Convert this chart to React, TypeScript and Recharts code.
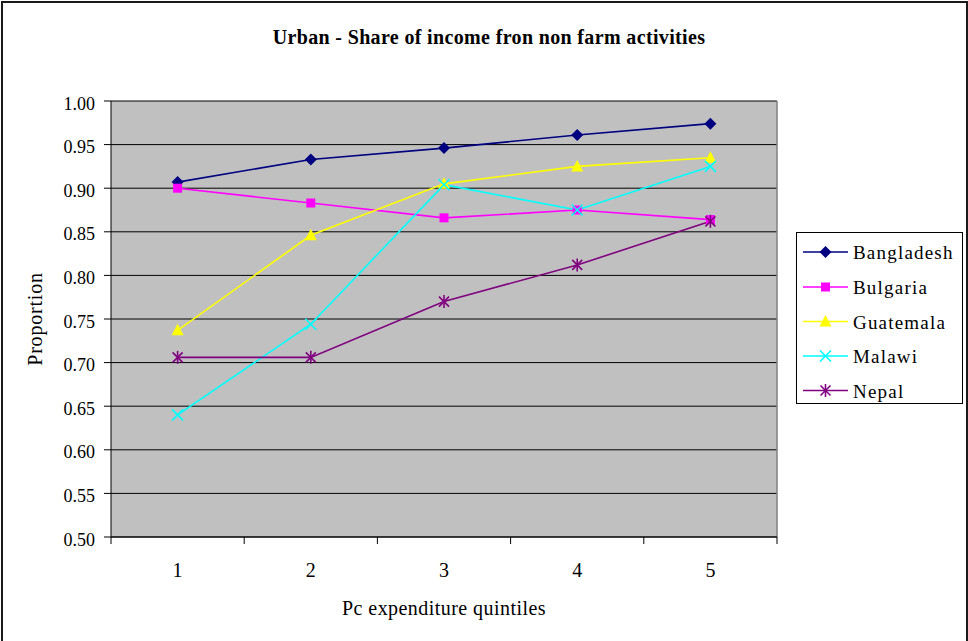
import React from 'react';
import { LineChart, Line, XAxis, YAxis, CartesianGrid, Legend, ReferenceLine, Customized } from 'recharts';

// Per-capita expenditure quintiles
const quintiles = [1, 2, 3, 4, 5];

// Share of income from non farm activities, urban households
const bangladesh = [0.907, 0.933, 0.946, 0.961, 0.974];
const bulgaria = [0.900, 0.883, 0.866, 0.875, 0.864];
const guatemala = [0.737, 0.846, 0.905, 0.925, 0.935];
const malawi = [0.640, 0.744, 0.904, 0.875, 0.925];
const nepal = [0.706, 0.706, 0.770, 0.812, 0.862];

const yTicks = [0.5, 0.55, 0.6, 0.65, 0.7, 0.75, 0.8, 0.85, 0.9, 0.95, 1.0];
// integer ticks carry the labels, half ticks mark the category boundaries
const xTicks = [0.5, 1, 1.5, 2, 2.5, 3, 3.5, 4, 4.5, 5, 5.5];

const data = quintiles.map((q, i) => ({
  q,
  Bangladesh: bangladesh[i],
  Bulgaria: bulgaria[i],
  Guatemala: guatemala[i],
  Malawi: malawi[i],
  Nepal: nepal[i],
}));

const FONT = "'Liberation Serif', 'Times New Roman', Times, serif";
const serif = (size: number, extra: React.CSSProperties = {}): React.CSSProperties => ({
  fontFamily: FONT,
  fontSize: size,
  ...extra,
});

type MarkerKind = 'diamond' | 'square' | 'triangle' | 'cross' | 'star';

const series: { key: string; color: string; marker: MarkerKind }[] = [
  { key: 'Bangladesh', color: '#000080', marker: 'diamond' },
  { key: 'Bulgaria', color: '#FF00FF', marker: 'square' },
  { key: 'Guatemala', color: '#FFFF00', marker: 'triangle' },
  { key: 'Malawi', color: '#00FFFF', marker: 'cross' },
  { key: 'Nepal', color: '#800080', marker: 'star' },
];

function Marker({ kind, cx, cy, color }: { kind: MarkerKind; cx: number; cy: number; color: string }) {
  switch (kind) {
    case 'diamond':
      return <path d={`M${cx},${cy - 6}L${cx + 6},${cy}L${cx},${cy + 6}L${cx - 6},${cy}Z`} fill={color} />;
    case 'square':
      return <rect x={cx - 4.5} y={cy - 4.5} width={9} height={9} fill={color} />;
    case 'triangle':
      return <path d={`M${cx},${cy - 6.5}L${cx + 6},${cy + 5}L${cx - 6},${cy + 5}Z`} fill={color} />;
    case 'cross':
      return (
        <g stroke={color} strokeWidth={1.6}>
          <line x1={cx - 5.5} y1={cy - 5.5} x2={cx + 5.5} y2={cy + 5.5} />
          <line x1={cx - 5.5} y1={cy + 5.5} x2={cx + 5.5} y2={cy - 5.5} />
        </g>
      );
    case 'star':
    default:
      return (
        <g stroke={color} strokeWidth={1.6}>
          <line x1={cx - 5} y1={cy - 5} x2={cx + 5} y2={cy + 5} />
          <line x1={cx - 5} y1={cy + 5} x2={cx + 5} y2={cy - 5} />
          <line x1={cx} y1={cy - 6.5} x2={cx} y2={cy + 6.5} />
        </g>
      );
  }
}

const makeDot = (kind: MarkerKind, color: string) => (props: any) => {
  const { cx, cy, index } = props;
  if (cx == null || cy == null) return <g key={`d-${index}`} />;
  return (
    <g key={`d-${index}`}>
      <Marker kind={kind} cx={cx} cy={cy} color={color} />
    </g>
  );
};

function XTick(props: any) {
  const { x, y, payload } = props;
  const v = payload.value as number;
  if (Number.isInteger(v)) {
    return (
      <text x={x} y={y + 40} textAnchor="middle" style={serif(20)} fill="#000">
        {v}
      </text>
    );
  }
  return <line x1={x} y1={y} x2={x} y2={y + 7} stroke="#000" strokeWidth={1} />;
}

function YTick(props: any) {
  const { x, y, payload } = props;
  return (
    <text x={x} y={y + 8.5} textAnchor="end" style={serif(18)} fill="#000">
      {(payload.value as number).toFixed(2)}
    </text>
  );
}

function LegendBox(props: any) {
  const payload: any[] = props.payload || [];
  const rowY = [20, 55, 89.5, 124, 158.5];
  return (
    <svg width={167} height={172} style={{ display: 'block' }}>
      <rect x={0.5} y={0.5} width={166} height={171} fill="#fff" stroke="#000" strokeWidth={1} />
      {payload.map((entry, i) => {
        const s = series.find((d) => d.key === entry.value) || series[i];
        const y = rowY[i];
        return (
          <g key={entry.value}>
            <line x1={7} y1={y} x2={52} y2={y} stroke={s.color} strokeWidth={1.6} />
            <Marker kind={s.marker} cx={29.5} cy={y} color={s.color} />
            <text x={57} y={y + 7} style={serif(19, { letterSpacing: 1.2 })} fill="#000">
              {entry.value}
            </text>
          </g>
        );
      })}
    </svg>
  );
}

function Title() {
  return (
    <text x={489} y={44} textAnchor="middle" style={serif(20, { fontWeight: 'bold', letterSpacing: 0.35 })} fill="#000">
      Urban - Share of income fron non farm activities
    </text>
  );
}

export default function App() {
  return (
    <div style={{ position: 'absolute', left: 0, top: 0, width: 968, height: 641, background: '#fff', overflow: 'hidden' }}>
      <div
        style={{
          position: 'absolute',
          left: 1,
          top: 1,
          width: 967,
          height: 680,
          boxSizing: 'border-box',
          border: '2px solid #1a1a1a',
        }}
      />
      <LineChart
        width={968}
        height={641}
        data={data}
        margin={{ top: 101, right: 191, bottom: 74, left: 0 }}
        style={{ position: 'absolute', left: 0, top: 0 }}
      >
        <CartesianGrid horizontal vertical={false} stroke="#000" strokeOpacity={1} fill="#C0C0C0" fillOpacity={1} />
        <XAxis
          dataKey="q"
          type="number"
          domain={[0.5, 5.5]}
          ticks={xTicks}
          interval={0}
          height={30}
          tickLine={false}
          tickSize={0}
          tickMargin={0}
          axisLine={{ stroke: '#000', strokeWidth: 1 }}
          tick={<XTick />}
          label={{
            content: (p: any) => {
              const vb = p.viewBox || {};
              return (
                <text x={vb.x + vb.width / 2} y={vb.y + 78} textAnchor="middle" style={serif(20, { letterSpacing: 0.45 })} fill="#000">
                  Pc expenditure quintiles
                </text>
              );
            },
          }}
        />
        <YAxis
          type="number"
          domain={[0.5, 1]}
          ticks={yTicks}
          interval={0}
          width={111}
          tickSize={7}
          tickMargin={9}
          tickLine={{ stroke: '#000' }}
          axisLine={{ stroke: '#000', strokeWidth: 1 }}
          tick={<YTick />}
          label={{
            content: (p: any) => {
              const vb = p.viewBox || {};
              const cy = vb.y + vb.height / 2;
              return (
                <text x={42} y={cy} transform={`rotate(-90, 42, ${cy})`} textAnchor="middle" style={serif(20, { letterSpacing: 0.8 })} fill="#000">
                  Proportion
                </text>
              );
            },
          }}
        />
        <ReferenceLine x={5.5} stroke="#808080" strokeWidth={1.5} />
        {series.map((s) => (
          <Line
            key={s.key}
            dataKey={s.key}
            name={s.key}
            type="linear"
            stroke={s.color}
            strokeWidth={1.6}
            dot={makeDot(s.marker, s.color)}
            activeDot={false}
            isAnimationActive={false}
          />
        ))}
        <Legend
          layout="horizontal"
          verticalAlign="middle"
          align="center"
          content={<LegendBox />}
          wrapperStyle={{ position: 'absolute', left: 796, top: 232, width: 167, height: 172, right: 'auto', bottom: 'auto' }}
        />
        <Customized component={<Title />} />
      </LineChart>
    </div>
  );
}
